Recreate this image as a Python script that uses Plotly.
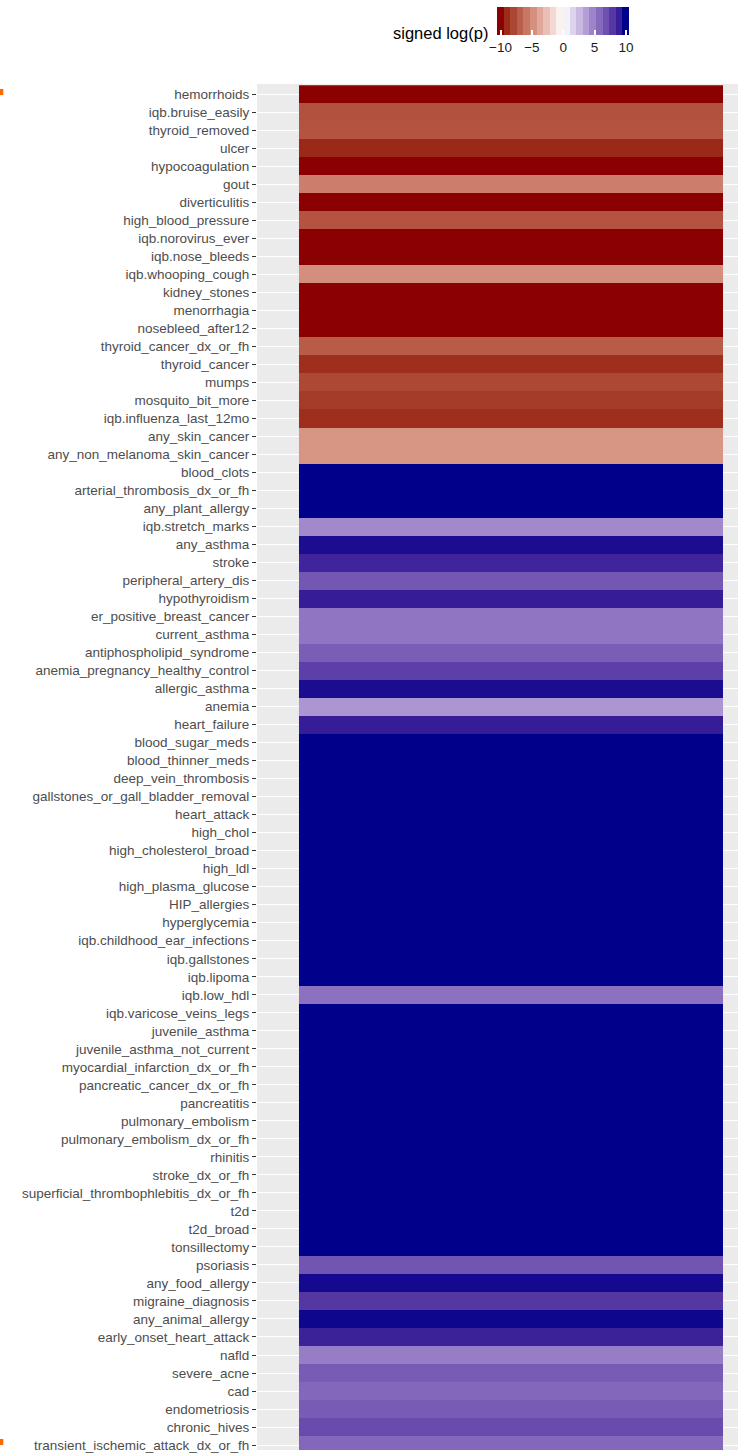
import plotly.graph_objects as go
import numpy as np

conditions = [
    "hemorrhoids", "iqb.bruise_easily", "thyroid_removed", "ulcer", "hypocoagulation",
    "gout", "diverticulitis", "high_blood_pressure", "iqb.norovirus_ever", "iqb.nose_bleeds",
    "iqb.whooping_cough", "kidney_stones", "menorrhagia", "nosebleed_after12",
    "thyroid_cancer_dx_or_fh", "thyroid_cancer", "mumps", "mosquito_bit_more",
    "iqb.influenza_last_12mo", "any_skin_cancer", "any_non_melanoma_skin_cancer",
    "blood_clots", "arterial_thrombosis_dx_or_fh", "any_plant_allergy", "iqb.stretch_marks",
    "any_asthma", "stroke", "peripheral_artery_dis", "hypothyroidism",
    "er_positive_breast_cancer", "current_asthma", "antiphospholipid_syndrome",
    "anemia_pregnancy_healthy_control", "allergic_asthma", "anemia", "heart_failure",
    "blood_sugar_meds", "blood_thinner_meds", "deep_vein_thrombosis",
    "gallstones_or_gall_bladder_removal", "heart_attack", "high_chol",
    "high_cholesterol_broad", "high_ldl", "high_plasma_glucose", "HIP_allergies",
    "hyperglycemia", "iqb.childhood_ear_infections", "iqb.gallstones", "iqb.lipoma",
    "iqb.low_hdl", "iqb.varicose_veins_legs", "juvenile_asthma",
    "juvenile_asthma_not_current", "myocardial_infarction_dx_or_fh",
    "pancreatic_cancer_dx_or_fh", "pancreatitis", "pulmonary_embolism",
    "pulmonary_embolism_dx_or_fh", "rhinitis", "stroke_dx_or_fh",
    "superficial_thrombophlebitis_dx_or_fh", "t2d", "t2d_broad", "tonsillectomy",
    "psoriasis", "any_food_allergy", "migraine_diagnosis", "any_animal_allergy",
    "early_onset_heart_attack", "nafld", "severe_acne", "cad", "endometriosis",
    "chronic_hives", "transient_ischemic_attack_dx_or_fh",
]

signed_logp = [
    -10, -7.4, -7.3, -9.0, -10,
    -5.5, -10, -7.3, -10, -10,
    -4.8, -10, -10, -10,
    -7.0, -8.8, -7.8, -8.3,
    -8.8, -4.5, -4.5,
    10, 10, 10, 4.5,
    9.6, 8.7, 6.6, 9.0,
    5.3, 5.3, 6.3,
    7.6, 9.6, 4.0, 9.0,
    10, 10, 10,
    10, 10, 10,
    10, 10, 10, 10,
    10, 10, 10, 10,
    5.5, 10, 10,
    10, 10,
    10, 10, 10,
    10, 10, 10,
    10, 10, 10, 10,
    6.7, 9.7, 7.9, 9.8,
    8.8, 5.0, 6.4, 5.9, 6.4,
    7.1, 5.9,
]

tick_values = [-10, -5, 0, 5, 10]
limits = [-10, 10]
legend_bins = 20


# --- colour scale: ggplot2 scale_fill_gradient2 (darkred - white - darkblue), Lab interpolation
def _srgb_to_lin(c):
    c = c / 255.0
    return np.where(c <= 0.04045, c / 12.92, ((c + 0.055) / 1.055) ** 2.4)


def _lin_to_srgb(c):
    c = np.clip(c, 0, 1)
    return np.where(c <= 0.0031308, 12.92 * c, 1.055 * c ** (1 / 2.4) - 0.055) * 255


_M = np.array([[0.4124, 0.3576, 0.1805], [0.2126, 0.7152, 0.0722], [0.0193, 0.1192, 0.9505]])
_WP = np.array([0.95047, 1.0, 1.08883])


def hex_to_lab(h):
    rgb = np.array([int(h[i:i + 2], 16) for i in (1, 3, 5)], dtype=float)
    xyz = _M @ _srgb_to_lin(rgb) / _WP
    f = np.where(xyz > 216 / 24389, np.cbrt(xyz), (24389 / 27 * xyz + 16) / 116)
    return np.array([116 * f[1] - 16, 500 * (f[0] - f[1]), 200 * (f[1] - f[2])])


def lab_to_rgb(lab):
    fy = (lab[0] + 16) / 116
    f = np.array([fy + lab[1] / 500, fy, fy - lab[2] / 200])
    xyz = np.where(f ** 3 > 216 / 24389, f ** 3, (116 * f - 16) / (24389 / 27)) * _WP
    rgb = _lin_to_srgb(np.linalg.inv(_M) @ xyz)
    return "rgb(%d,%d,%d)" % tuple(np.round(rgb).astype(int))


LOW, MID, HIGH = hex_to_lab("#8B0000"), hex_to_lab("#FFFFFF"), hex_to_lab("#00008B")


def colour_at(v):
    t = (v - limits[0]) / (limits[1] - limits[0])
    if t <= 0.5:
        return lab_to_rgb(LOW + (MID - LOW) * (t / 0.5))
    return lab_to_rgb(MID + (HIGH - MID) * ((t - 0.5) / 0.5))


# smooth scale for the tiles
colorscale = [[i / 40, colour_at(limits[0] + (limits[1] - limits[0]) * i / 40)] for i in range(41)]

# binned scale for the legend bar (like ggplot's colourbar raster with nbin bins)
bin_vals = np.linspace(limits[0], limits[1], legend_bins)
step = (limits[1] - limits[0]) / (legend_bins - 1)
legend_scale = []
for i, v in enumerate(bin_vals):
    c = colour_at(v)
    legend_scale.append([i / legend_bins, c])
    legend_scale.append([(i + 1) / legend_bins, c])

W, H = 738, 1453
ML, MT = 257, 84
PW, PH = W - ML, H - MT
FONT = "Liberation Sans"


def px_x(x):
    return (x - ML) / PW


def px_y(y):
    return (H - y) / PH


fig = go.Figure()
fig.add_trace(
    go.Heatmap(
        z=[[v] for v in signed_logp],
        x=[0],
        y=conditions,
        zmin=limits[0],
        zmax=limits[1],
        colorscale=colorscale,
        showscale=False,
        hoverinfo="skip",
    )
)
# legend-only trace carrying the colour bar
fig.add_trace(
    go.Scatter(
        x=[None],
        y=[None],
        mode="markers",
        showlegend=False,
        hoverinfo="skip",
        marker=dict(
            color=[0],
            cmin=limits[0] - step / 2,
            cmax=limits[1] + step / 2,
            colorscale=legend_scale,
            showscale=True,
            colorbar=dict(
                orientation="h",
                xref="paper",
                yref="paper",
                x=px_x(563.2),
                xanchor="center",
                y=px_y(7),
                yanchor="top",
                lenmode="pixels",
                len=131.7,
                thicknessmode="pixels",
                thickness=28,
                outlinewidth=0,
                xpad=0,
                ypad=0,
                ticks="inside",
                ticklen=5,
                tickwidth=1.5,
                tickcolor="white",
                tickvals=tick_values,
                tickfont=dict(family=FONT, size=13.5, color="#1A1A1A"),
            ),
        ),
    )
)

fig.update_layout(
    width=W,
    height=H,
    margin=dict(l=ML, r=0, t=MT, b=0, pad=0),
    plot_bgcolor="#EBEBEB",
    paper_bgcolor="white",
    font=dict(family=FONT),
    xaxis=dict(range=[-0.599, 0.535], showgrid=False, zeroline=False,
               showticklabels=False, ticks=""),
    yaxis=dict(
        type="category",
        categoryorder="array",
        categoryarray=conditions,
        range=[75.275, -0.57],
        showgrid=True,
        gridcolor="white",
        gridwidth=1.1,
        zeroline=False,
        ticks="outside",
        ticklen=4,
        tickwidth=1.1,
        tickcolor="#333333",
        tickfont=dict(family=FONT, size=13.5, color="#4D4D4D"),
    ),
    annotations=[
        dict(
            text="signed log(p)",
            xref="paper",
            yref="paper",
            x=px_x(490),
            y=px_y(33),
            xanchor="right",
            yanchor="middle",
            showarrow=False,
            font=dict(family=FONT, size=16.5, color="black"),
        )
    ],
    shapes=[
        dict(type="rect", xref="paper", yref="paper", x0=px_x(0), x1=px_x(3.3),
             y0=px_y(95), y1=px_y(89), fillcolor="#FF6A00", line_width=0, layer="above"),
        dict(type="rect", xref="paper", yref="paper", x0=px_x(0), x1=px_x(3.3),
             y0=px_y(1448), y1=px_y(1442), fillcolor="#FF6A00", line_width=0, layer="above"),
    ],
)

fig.write_html("out.html")
